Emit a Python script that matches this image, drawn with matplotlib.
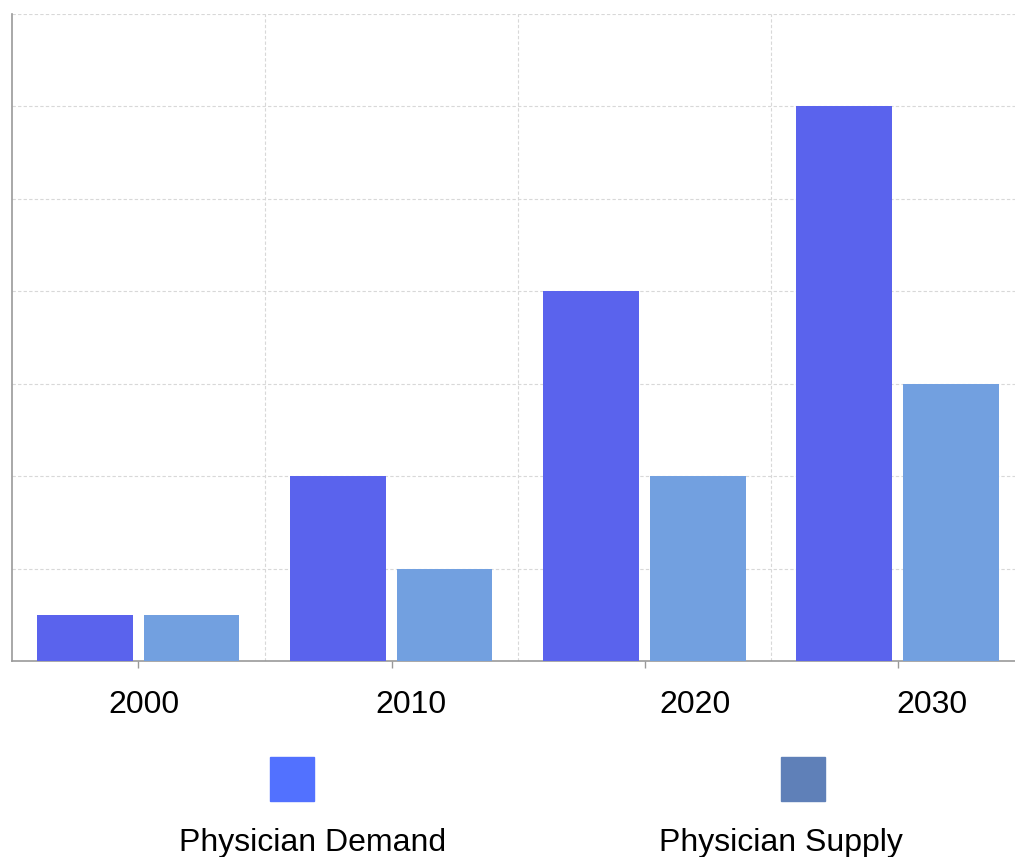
import matplotlib
matplotlib.use("Agg")
import matplotlib.pyplot as plt
from matplotlib.patches import Rectangle
import numpy as np

plt.rcParams["font.family"] = ["Liberation Sans", "DejaVu Sans"]

# Data
years = ["2000", "2010", "2020", "2030"]
demand = [0.5, 2, 4, 6]
supply = [0.5, 1, 2, 3]
series_names = ["Physician Demand", "Physician Supply"]

bar_colors = ["#5a63ed", "#72a0e0"]
legend_colors = ["#5271ff", "#5f80b8"]

fig = plt.figure(figsize=(10.15, 8.57), dpi=100)
ax = fig.add_axes([0.0118, 0.2287, 0.9882, 0.755])

centers = np.arange(len(years)) + 0.5
width = 0.378
ax.bar(centers - 0.211, demand, width, color=bar_colors[0], zorder=3)
ax.bar(centers + 0.21, supply, width, color=bar_colors[1], zorder=3)

# the last band is slightly cut off by the right edge in the original
ax.set_xlim(0, len(years) - 0.036)
ax.set_ylim(0, 7)

# grid lines on category boundaries and whole units
ax.set_xticks(centers)
ax.set_xticklabels([])
ax.set_xticks(np.arange(1, len(years)), minor=True)
ax.set_yticks(np.arange(1, 8))
ax.set_yticklabels([])
ax.tick_params(axis="y", length=0)
ax.tick_params(axis="x", which="major", length=5, color="#999999", width=1)
ax.tick_params(axis="x", which="minor", length=0)
ax.grid(True, axis="y", which="major", color="#d8d8d8", linestyle=(0, (3, 2)), linewidth=0.8, zorder=0)
ax.grid(True, axis="x", which="minor", color="#d8d8d8", linestyle=(0, (3, 2)), linewidth=0.8, zorder=0)

for side in ["top", "right"]:
    ax.spines[side].set_visible(False)
for side in ["left", "bottom"]:
    ax.spines[side].set_color("#999999")
    ax.spines[side].set_linewidth(1.2)

# year labels sit a bit right of their ticks in the original
label_shift = [0.022, 0.077, 0.2, 0.136]
for i, year in enumerate(years):
    ax.text(centers[i] + label_shift[i], -0.48, year, ha="center", va="center", fontsize=23)

# legend drawn by hand: swatch above, name below
swatch_pos = [(0.2660, 0.0653), (0.7695, 0.0653)]
label_pos = [(0.3084, 0.0165), (0.7695, 0.0165)]
for i, name in enumerate(series_names):
    sx, sy = swatch_pos[i]
    fig.patches.append(Rectangle((sx, sy), 0.0433, 0.0513, transform=fig.transFigure,
                                 color=legend_colors[i]))
    lx, ly = label_pos[i]
    fig.text(lx, ly, name, ha="center", va="center", fontsize=23)

fig.savefig("out.png", dpi=100)
